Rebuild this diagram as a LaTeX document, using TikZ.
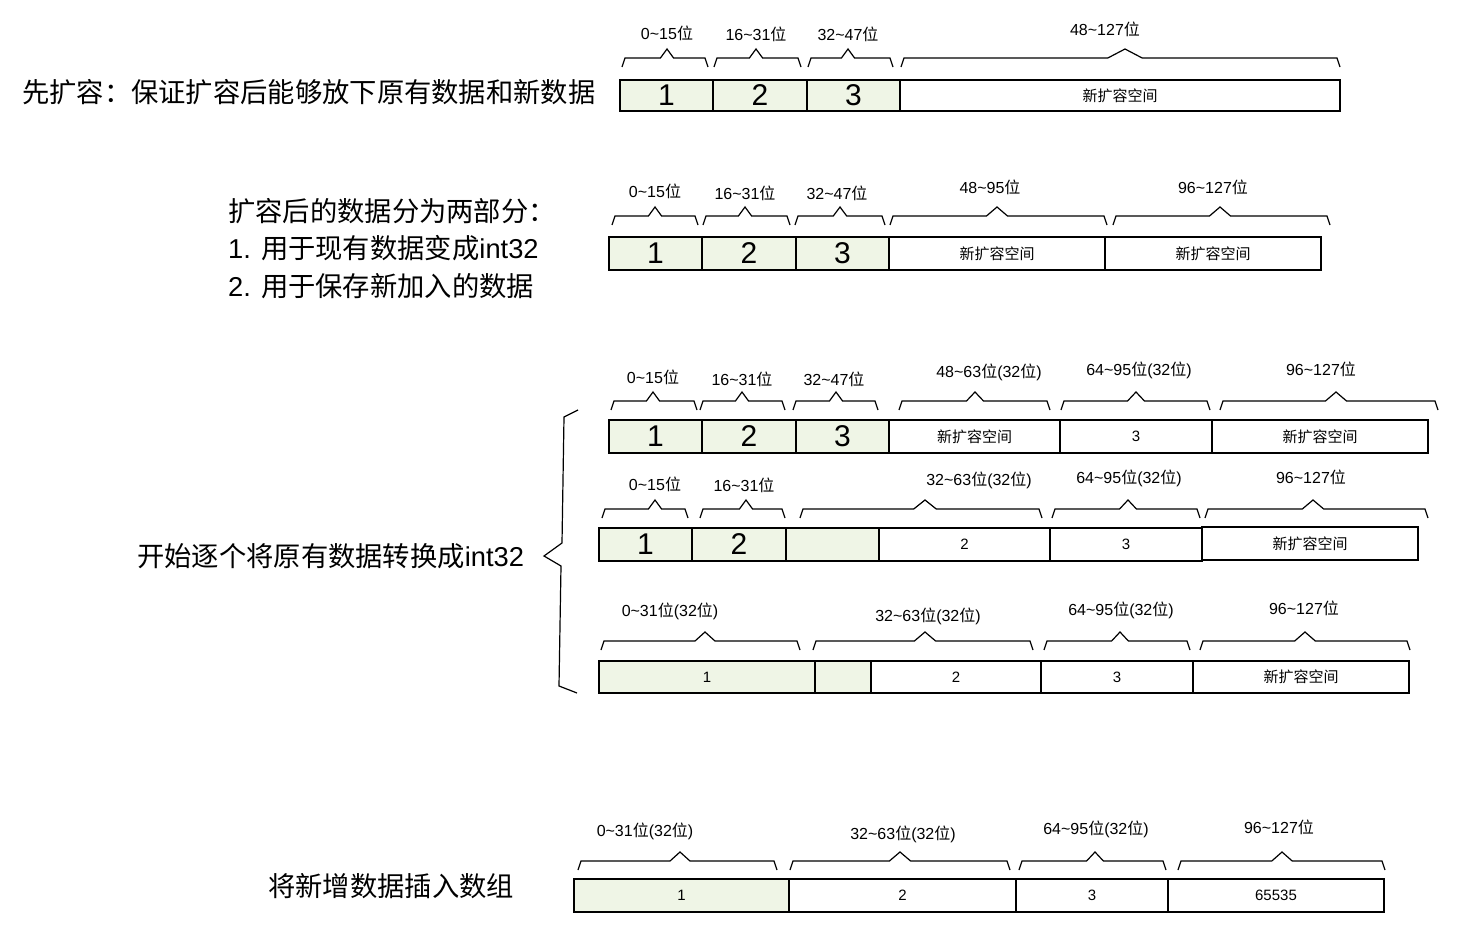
\documentclass[tikz,border=0pt]{standalone}
\usepackage{fontspec}
\setmainfont{Liberation Sans}
\newfontfamily\cjk{Noto Sans CJK SC}
\definecolor{cellgreen}{RGB}{239,245,230}
\newcommand\wei{{\cjk 位}}
\newcommand\xkr{{\cjk 新扩容空间}}
\newcommand\tl{\textasciitilde}
% cell: name, x1, x2, y1, y2, box style, text style, then {text};
\newcommand\cbox[7]{\draw[#6] (#2,#4) rectangle (#3,#5); \node[#7] (#1) at ({(#2+#3)/2},{(#4+#5)/2})}
% brace: x1, x2, xpeak, y of horizontal line
\newcommand\brc[4]{\pgfmathsetmacro\hw{4+0.03*(#2-#1)}%
  \draw[bracel] (#1,#4+9) -- (#1+3,#4) -- (#3-\hw,#4) -- (#3,#4-9) -- (#3+\hw,#4) -- (#2-3,#4) -- (#2,#4+9);}
\begin{document}
\begin{tikzpicture}[x=1pt,y=-1pt,
  gcell/.style={draw=black,fill=cellgreen,line width=1.5pt},
  wcell/.style={draw=black,fill=white,line width=1.5pt},
  bignum/.style={font=\fontsize{30}{34}\selectfont,inner sep=0pt},
  smtxt/.style={font=\fontsize{15}{18}\selectfont,inner sep=0pt},
  lbl/.style={font=\fontsize{16}{19}\selectfont,inner sep=0pt},
  side/.style={font=\fontsize{27.3}{31}\selectfont,inner sep=0pt,anchor=west},
  bracel/.style={draw=black,line width=1.2pt,line join=miter}]
\useasboundingbox[fill=white] (0,0) rectangle (1460,952);

% ---------- Row 1 ----------
\node[side] (t1) at (22,92) {\cjk 先扩容：保证扩容后能够放下原有数据和新数据};
\cbox{a1}{620}{713}{80}{111}{gcell}{bignum}{1};
\cbox{a2}{713}{807}{80}{111}{gcell}{bignum}{2};
\cbox{a3}{807}{900}{80}{111}{gcell}{bignum}{3};
\cbox{a4}{900}{1340}{80}{111}{wcell}{smtxt}{\xkr};
\brc{622}{708}{667}{58}
\brc{714}{801}{756}{58}
\brc{808}{893}{848}{58}
\brc{901}{1340}{1125}{58}
\node[lbl] (la1) at (667,33) {0\tl15\wei};
\node[lbl] (la2) at (756,34) {16\tl31\wei};
\node[lbl] (la3) at (848,34) {32\tl47\wei};
\node[lbl] (la4) at (1105,29) {48\tl127\wei};

% ---------- Row 2 ----------
\node[side] (t2a) at (228,211) {\cjk 扩容后的数据分为两部分：};
\node[side] (t2b) at (228,248) {1. {\cjk 用于现有数据变成}int32};
\node[side] (t2c) at (228,286) {2. {\cjk 用于保存新加入的数据}};
\cbox{b1}{609}{702}{237}{270}{gcell}{bignum}{1};
\cbox{b2}{702}{796}{237}{270}{gcell}{bignum}{2};
\cbox{b3}{796}{889}{237}{270}{gcell}{bignum}{3};
\cbox{b4}{889}{1105}{237}{270}{wcell}{smtxt}{\xkr};
\cbox{b5}{1105}{1321}{237}{270}{wcell}{smtxt}{\xkr};
\brc{612}{698}{655}{216}
\brc{703}{790}{745}{216}
\brc{795}{885}{840}{216}
\brc{890}{1107}{997}{216}
\brc{1113}{1330}{1220}{216}
\node[lbl] (lb1) at (655,191) {0\tl15\wei};
\node[lbl] (lb2) at (745,193) {16\tl31\wei};
\node[lbl] (lb3) at (837,193) {32\tl47\wei};
\node[lbl] (lb4) at (990,187) {48\tl95\wei};
\node[lbl] (lb5) at (1213,187) {96\tl127\wei};

% ---------- Row 3 group ----------
\node[side] (t3) at (137,556) {{\cjk 开始逐个将原有数据转换成}int32};
\draw[bracel] (578,410) -- (564,417) -- (562,543) -- (544,556) -- (561,566) -- (559,686) -- (577,693);

% Row 3a
\cbox{c1}{609}{702}{420}{453}{gcell}{bignum}{1};
\cbox{c2}{702}{796}{420}{453}{gcell}{bignum}{2};
\cbox{c3}{796}{889}{420}{453}{gcell}{bignum}{3};
\cbox{c4}{889}{1060}{420}{453}{wcell}{smtxt}{\xkr};
\cbox{c5}{1060}{1212}{420}{453}{wcell}{smtxt}{3};
\cbox{c6}{1212}{1428}{420}{453}{wcell}{smtxt}{\xkr};
\brc{611}{697}{653}{401}
\brc{700}{785}{742}{401}
\brc{793}{878}{836}{401}
\brc{899}{1050}{975}{401}
\brc{1061}{1210}{1136}{401}
\brc{1220}{1438}{1336}{401}
\node[lbl] (lc1) at (653,377) {0\tl15\wei};
\node[lbl] (lc2) at (742,379) {16\tl31\wei};
\node[lbl] (lc3) at (834,379) {32\tl47\wei};
\node[lbl] (lc4) at (989,372) {48\tl63\wei(32\wei)};
\node[lbl] (lc5) at (1139,370) {64\tl95\wei(32\wei)};
\node[lbl] (lc6) at (1321,369) {96\tl127\wei};

% Row 3b
\cbox{d1}{599}{692}{528}{561}{gcell}{bignum}{1};
\cbox{d2}{692}{786}{528}{561}{gcell}{bignum}{2};
\draw[gcell] (786,528) rectangle (879,561);
\cbox{d4}{879}{1050}{528}{561}{wcell}{smtxt}{2};
\cbox{d5}{1050}{1202}{528}{561}{wcell}{smtxt}{3};
\cbox{d6}{1202}{1418}{527}{560}{wcell}{smtxt}{\xkr};
\brc{602}{688}{655}{509}
\brc{700}{785}{746}{509}
\brc{800}{1042}{925}{509}
\brc{1052}{1200}{1128}{509}
\brc{1205}{1428}{1313}{509}
\node[lbl] (ld1) at (655,484) {0\tl15\wei};
\node[lbl] (ld2) at (744,485) {16\tl31\wei};
\node[lbl] (ld3) at (979,480) {32\tl63\wei(32\wei)};
\node[lbl] (ld4) at (1129,478) {64\tl95\wei(32\wei)};
\node[lbl] (ld5) at (1311,477) {96\tl127\wei};

% Row 3c
\cbox{e1}{599}{815}{661}{693}{gcell}{smtxt}{1};
\draw[gcell] (815,661) rectangle (871,693);
\cbox{e3}{871}{1041}{661}{693}{wcell}{smtxt}{2};
\cbox{e4}{1041}{1193}{661}{693}{wcell}{smtxt}{3};
\cbox{e5}{1193}{1409}{661}{693}{wcell}{smtxt}{\xkr};
\brc{601}{800}{705}{641}
\brc{813}{1033}{925}{641}
\brc{1044}{1190}{1120}{641}
\brc{1200}{1410}{1305}{641}
\node[lbl] (le1) at (670,611) {0\tl31\wei(32\wei)};
\node[lbl] (le2) at (928,616) {32\tl63\wei(32\wei)};
\node[lbl] (le3) at (1121,610) {64\tl95\wei(32\wei)};
\node[lbl] (le4) at (1304,608) {96\tl127\wei};

% ---------- Row 4 ----------
\node[side] (t4) at (268,886) {\cjk 将新增数据插入数组};
\cbox{f1}{574}{789}{879}{912}{gcell}{smtxt}{1};
\cbox{f2}{789}{1016}{879}{912}{wcell}{smtxt}{2};
\cbox{f3}{1016}{1168}{879}{912}{wcell}{smtxt}{3};
\cbox{f4}{1168}{1384}{879}{912}{wcell}{smtxt}{65535};
\brc{578}{777}{680}{861}
\brc{790}{1010}{900}{861}
\brc{1019}{1166}{1095}{861}
\brc{1178}{1385}{1282}{861}
\node[lbl] (lf1) at (645,831) {0\tl31\wei(32\wei)};
\node[lbl] (lf2) at (903,834) {32\tl63\wei(32\wei)};
\node[lbl] (lf3) at (1096,829) {64\tl95\wei(32\wei)};
\node[lbl] (lf4) at (1279,827) {96\tl127\wei};
\end{tikzpicture}
\end{document}
